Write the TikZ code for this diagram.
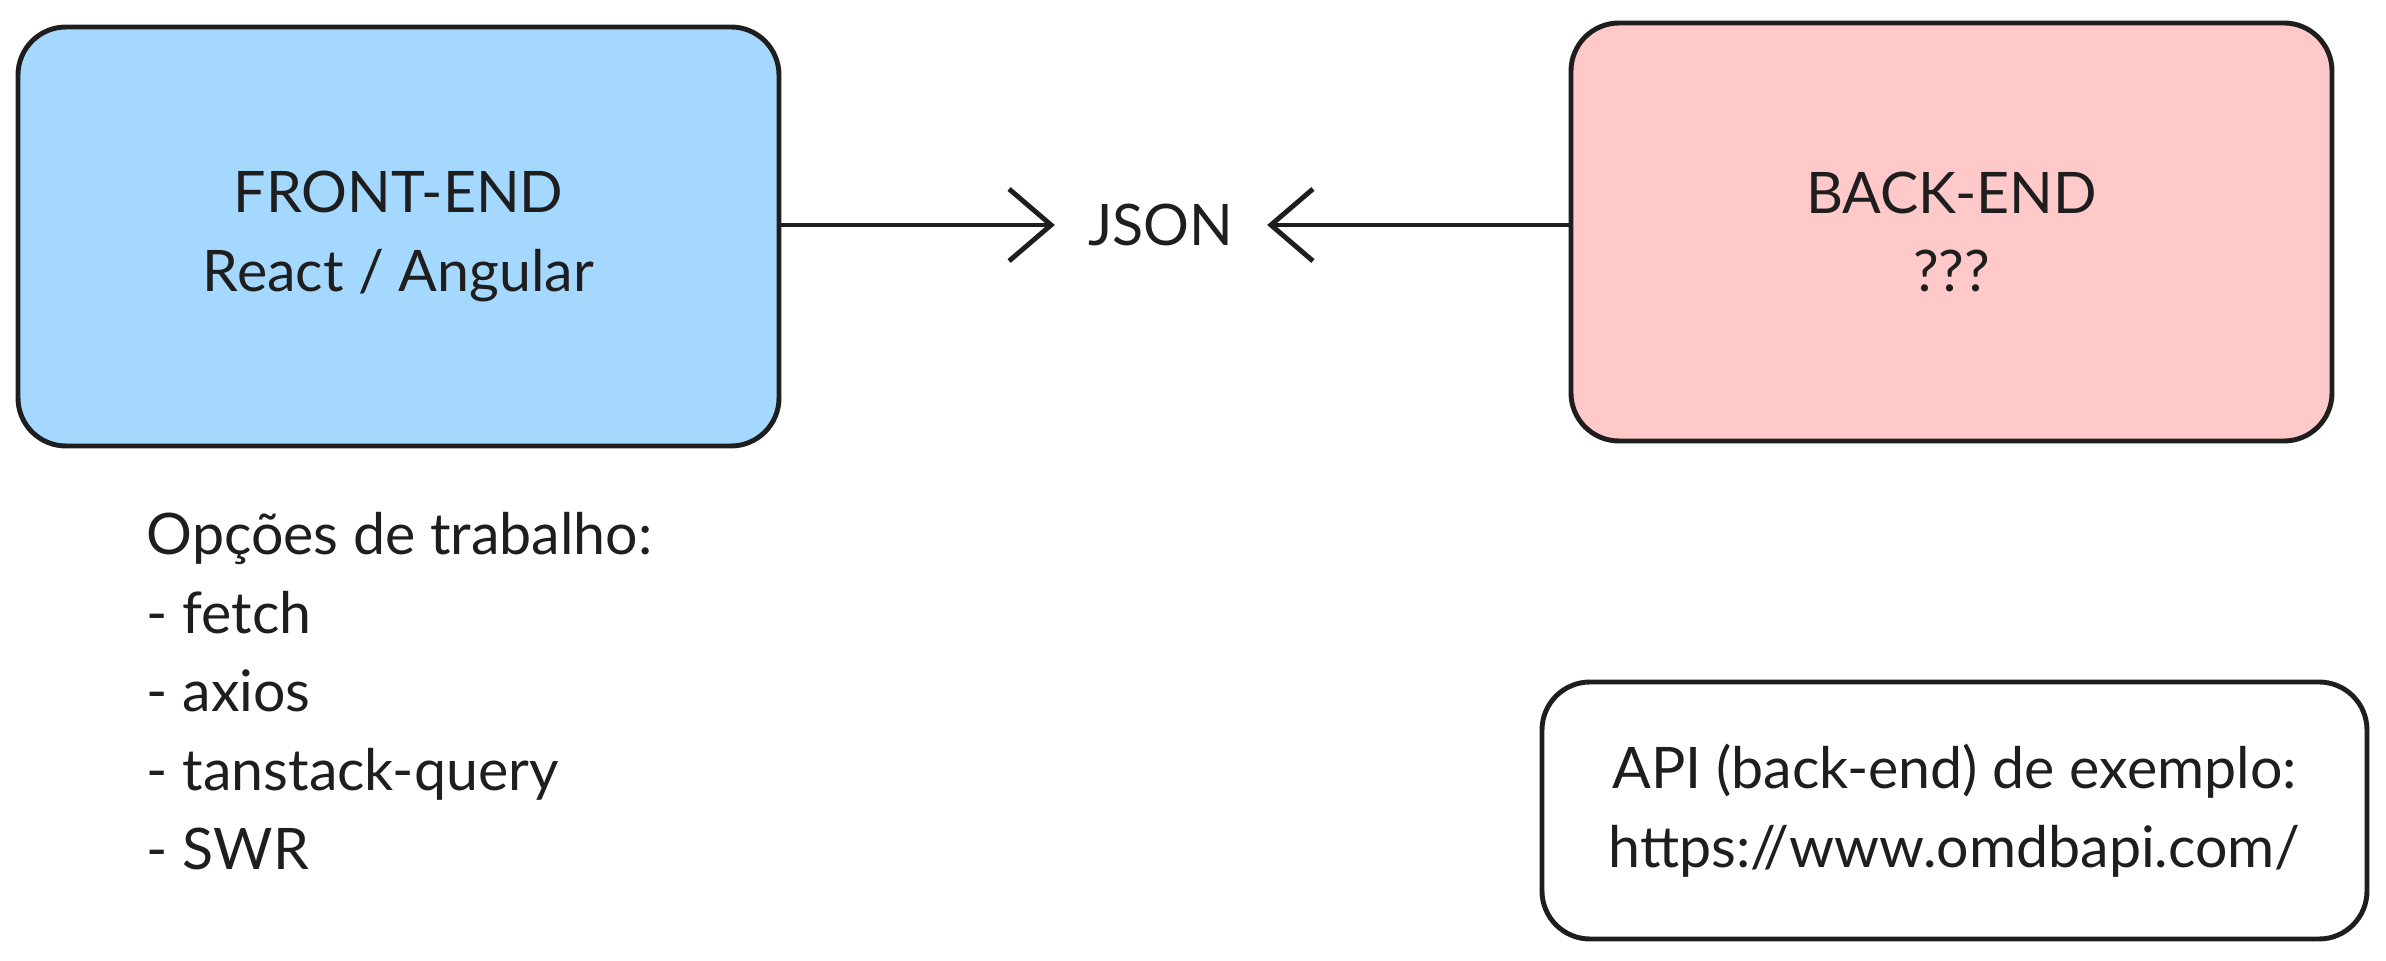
\documentclass[tikz,border=0pt]{standalone}
\usepackage{fontspec}
\setmainfont{Lato}
\usepackage{tikz}
\usetikzlibrary{calc}
\usetikzlibrary{arrows.meta}
\usetikzlibrary{positioning}
\tikzset{>={Straight Barb[length=.42cm, width=.72cm, line width=1.4pt]}}
\definecolor{ink}{HTML}{1E1E1E}
\definecolor{feblue}{HTML}{A5D8FF}
\definecolor{bered}{HTML}{FFC9C9}
\tikzstyle{txt} = [draw = none, text = ink, font = \fontsize{16.3}{22.4}\selectfont]
\tikzstyle{sys} = [txt, draw = ink, line width = 1.4pt, rounded corners = .48cm, align = center]

\begin{document}
\begin{tikzpicture}
\useasboundingbox (0, 0) rectangle (23.86, 9.61);
\node [sys, fill = feblue, minimum width = 7.61cm, minimum height = 4.19cm] (FE) at (3.985, 7.245) {FRONT-END\\React / Angular};
\node [sys, fill = bered, minimum width = 7.61cm, minimum height = 4.18cm] (BE) at (19.515, 7.29) {BACK-END\\???};
\node [txt, inner sep = .33cm] (JSON) at (11.61, 7.36) {JSON};
\node [txt, align = left, anchor = west, inner sep = 0] (opts) at (1.46, 2.70) {Opções de trabalho:\\- fetch\\- axios\\- tanstack-query\\- SWR};
\node [sys, minimum width = 8.25cm, minimum height = 2.57cm] (api) at (19.545, 1.505) {API (back-end) de exemplo:\\https://www.omdbapi.com/};
\draw [->, draw = ink, line width = 1.4pt] (FE.east |- JSON.west) -- (JSON.west);
\draw [->, draw = ink, line width = 1.4pt] (BE.west |- JSON.east) -- (JSON.east);
\end{tikzpicture}
\end{document}
